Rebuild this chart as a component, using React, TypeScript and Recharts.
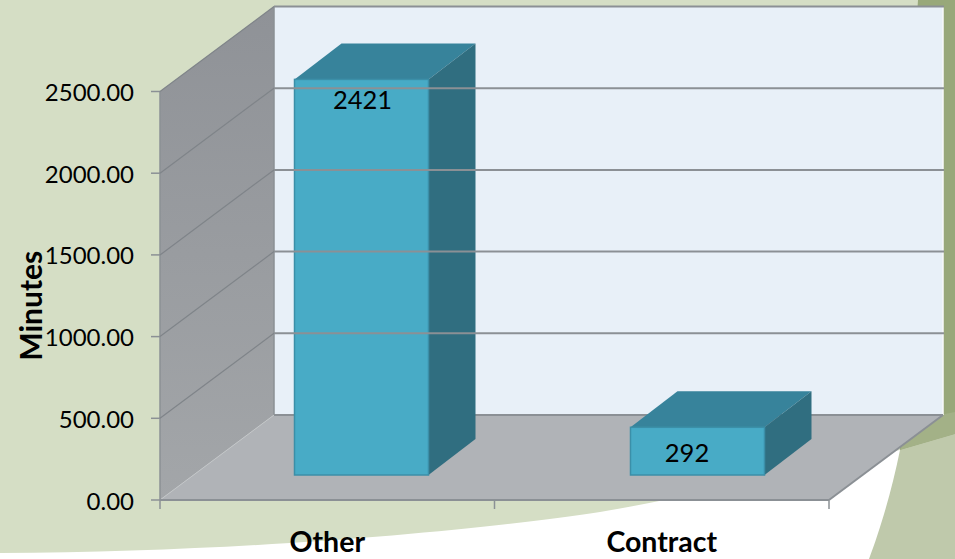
import { BarChart, Bar, XAxis, YAxis, LabelList } from 'recharts';

const categories = ['Other', 'Contract'];
const minutes = [2421, 292];
const yTicks = [0, 500, 1000, 1500, 2000, 2500];

const data = categories.map((name, i) => ({ name, minutes: minutes[i] }));

const WIDTH = 955;
const HEIGHT = 559;
const LEFT = 160;
const RIGHT = 829;
const TOP = 91.5;
const BOTTOM = 500;

// 3d box offsets
const WALL_DX = 114;
const WALL_DY = 85;
const BAR_DX = 47;
const BAR_DY = 36;
const BAR_SHIFT_X = 34.5;
const BAR_SHIFT_Y = 25;
// the two bars and their labels do not sit quite alike in the original
const BAR_NUDGE_X = [0, 1.5];
const LABEL_NUDGE_X = [1, -9];
const LABEL_NUDGE_Y = [20, 25];

const GRID = '#8b9095';
const FONT = 'Lato, sans-serif';

function Bar3D(props: any) {
  const x = props.x + BAR_SHIFT_X + BAR_NUDGE_X[props.index];
  const y = props.y - BAR_SHIFT_Y;
  const { width, height } = props;
  const r = x + width;
  const b = y + height;
  return (
    <g>
      <polygon points={`${x},${y} ${x + BAR_DX},${y - BAR_DY} ${r + BAR_DX},${y - BAR_DY} ${r},${y}`} fill="#37839b" />
      <polygon points={`${r},${y} ${r + BAR_DX},${y - BAR_DY} ${r + BAR_DX},${b - BAR_DY} ${r},${b}`} fill="#306e80" />
      <rect x={x} y={y} width={width} height={height} fill="#48abc6" stroke="#3b8fa8" strokeWidth={1.5} />
    </g>
  );
}

function BarValue(props: any) {
  const { x, y, width, value, index } = props;
  return (
    <text
      x={x + BAR_SHIFT_X + width / 2 + LABEL_NUDGE_X[index]}
      y={y - BAR_SHIFT_Y + LABEL_NUDGE_Y[index]}
      textAnchor="middle"
      dominantBaseline="central"
      fontFamily={FONT}
      fontSize={25.5}
      fill="#000"
    >
      {value}
    </text>
  );
}

// tick label plus the gridline that runs over the side wall and back wall
function YTick(props: any) {
  const { x, y, payload } = props;
  return (
    <g>
      {payload.value > 0 && (
        <>
          <line x1={LEFT} y1={y} x2={LEFT + WALL_DX} y2={y - WALL_DY} stroke="#7f8489" strokeWidth={1.2} />
          <line x1={LEFT + WALL_DX} y1={y - WALL_DY} x2={RIGHT + WALL_DX + 1} y2={y - WALL_DY} stroke={GRID} strokeWidth={2} />
        </>
      )}
      <text x={x} y={y} textAnchor="end" dominantBaseline="central" fontFamily={FONT} fontSize={24} fill="#000">
        {payload.value.toFixed(2)}
      </text>
    </g>
  );
}

function XTick(props: any) {
  const { x, y, payload, index } = props;
  const half = (RIGHT - LEFT) / categories.length / 2;
  return (
    <g>
      {index === 0 && <line x1={x - half} y1={BOTTOM} x2={x - half} y2={BOTTOM + 9} stroke={GRID} strokeWidth={1.5} />}
      <line x1={x + half} y1={BOTTOM} x2={x + half} y2={BOTTOM + 9} stroke={GRID} strokeWidth={1.5} />
      <text x={x} y={y} textAnchor="middle" dominantBaseline="central" fontFamily={FONT} fontWeight={700} fontSize={28.5} fill="#000">
        {payload.value}
      </text>
    </g>
  );
}

function Backdrop() {
  const wl = LEFT + WALL_DX;
  const wr = RIGHT + WALL_DX;
  const wt = TOP - WALL_DY;
  const wb = BOTTOM - WALL_DY;
  return (
    <svg width={WIDTH} height={HEIGHT} style={{ position: 'absolute', left: 0, top: 0 }}>
      <defs>
        <linearGradient id="sideWall" x1="0" y1="0" x2="0" y2="1">
          <stop offset="0" stopColor="#8f9297" />
          <stop offset="1" stopColor="#a3a6a9" />
        </linearGradient>
      </defs>
      {/* slide background */}
      <rect width={WIDTH} height={HEIGHT} fill="#ffffff" />
      <path d="M0,0 H918 V440 L900,450 C800,470 690,497 600,512 C480,530 250,552 0,553 Z" fill="#d5dec5" />
      <path d="M900,450 L955,434 V559 H869 C880,530 892,490 900,450 Z" fill="#bfc9ab" />
      <path d="M918,0 H955 V434 L900,450 V300 Z" fill="#98a87a" />
      <path d="M900,450 L955,434 V412 L915,420 Z" fill="#a3b187" />
      {/* walls and floor */}
      <polygon points={`${LEFT},${TOP} ${wl},${wt} ${wl},${wb} ${LEFT},${BOTTOM}`} fill="url(#sideWall)" />
      <rect x={wl} y={wt} width={wr - wl} height={wb - wt} fill="#e8f0f8" />
      <line x1={wr} y1={wt} x2={wr} y2={wb} stroke="#f8fafb" strokeWidth={1.5} />
      <polygon points={`${LEFT},${BOTTOM} ${wl},${wb} ${wr},${wb} ${RIGHT},${BOTTOM}`} fill="#b0b3b7" />
      <line x1={wl} y1={wb} x2={wr} y2={wb} stroke={GRID} strokeWidth={2} />
      <line x1={wl} y1={wt} x2={wl} y2={wb} stroke={GRID} strokeWidth={1.5} />
      <line x1={LEFT} y1={BOTTOM} x2={wl} y2={wb} stroke="#c3c6c9" strokeWidth={1} />
      <line x1={RIGHT} y1={BOTTOM} x2={wr} y2={wb} stroke={GRID} strokeWidth={2} />
    </svg>
  );
}

export default function App() {
  return (
    <div style={{ position: 'absolute', left: 0, top: 0, width: WIDTH, height: HEIGHT, overflow: 'hidden' }}>
      <Backdrop />
      <div style={{ position: 'absolute', left: 0, top: 0 }}>
        <BarChart
          width={WIDTH}
          height={HEIGHT}
          data={data}
          margin={{ top: TOP, right: WIDTH - RIGHT, bottom: 0, left: 0 }}
        >
          <YAxis
            width={LEFT}
            domain={[0, 2500]}
            ticks={yTicks}
            interval={0}
            tick={<YTick />}
            tickSize={9}
            tickMargin={17}
            tickLine={{ stroke: GRID, strokeWidth: 1.5 }}
            axisLine={{ stroke: GRID, strokeWidth: 1.5 }}
            label={{
              value: 'Minutes',
              angle: -90,
              position: 'insideLeft',
              offset: 31,
              dx: 0,
              dy: 10,
              style: { fontFamily: FONT, fontWeight: 700, fontSize: 30, fill: '#000', textAnchor: 'middle' },
            }}
          />
          <XAxis
            dataKey="name"
            height={HEIGHT - BOTTOM}
            interval={0}
            tick={<XTick />}
            tickSize={0}
            tickMargin={41}
            axisLine={{ stroke: GRID, strokeWidth: 2 }}
          />
          <Bar dataKey="minutes" barSize={134} isAnimationActive={false} shape={<Bar3D />}>
            <LabelList dataKey="minutes" content={<BarValue />} />
          </Bar>
        </BarChart>
      </div>
    </div>
  );
}
